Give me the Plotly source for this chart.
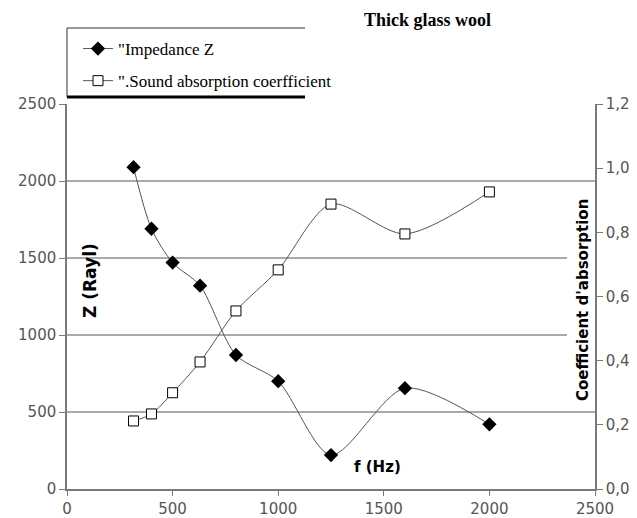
import plotly.graph_objects as go

# Frequencies (Hz) and measured values for thick glass wool
freq_hz = [315, 400, 500, 630, 800, 1000, 1250, 1600, 2000]
impedance_z = [2090, 1690, 1470, 1320, 870, 700, 220, 655, 420]
absorption = [0.212, 0.234, 0.30, 0.396, 0.555, 0.683, 0.888, 0.795, 0.926]

z_ticks = [0, 500, 1000, 1500, 2000, 2500]
alpha_ticks = [0.0, 0.2, 0.4, 0.6, 0.8, 1.0, 1.2]
f_ticks = [0, 500, 1000, 1500, 2000, 2500]
grid_levels = [500, 1000, 1500, 2000]

W, H = 637, 518
L, R, T, B = 67, 42, 104, 29
pw, ph = W - L - R, H - T - B

def px_x(p):
    return (p - L) / pw

def px_y(p):
    return (H - B - p) / ph

tick_font = dict(family="DejaVu Sans", size=15, color="#555555")
axis_col = "#7a7a7a"

fig = go.Figure()

fig.add_trace(go.Scatter(
    x=freq_hz, y=impedance_z, name='"Impedance Z',
    mode="lines+markers", line=dict(color="#555555", width=1, shape="spline", smoothing=0.8),
    marker=dict(symbol="diamond", size=11, color="black"),
    legendgroup="a",
))
fig.add_trace(go.Scatter(
    x=freq_hz, y=absorption, name='".Sound absorption coerfficient', yaxis="y2",
    mode="lines+markers", line=dict(color="#555555", width=1, shape="spline", smoothing=0.8),
    marker=dict(symbol="square", size=10, color="white", line=dict(color="black", width=1)),
    legendgroup="b",
))

shapes = []
for g in grid_levels:
    x1 = 1.0 if g in (500, 2000) else px_x(567)
    shapes.append(dict(type="line", xref="paper", yref="y", x0=0, x1=x1, y0=g, y1=g,
                       line=dict(color="#555555", width=1), layer="below"))

# legend frame
lx0, lx1, ly0, ly1 = px_x(67), px_x(305), px_y(97), px_y(28)
shapes += [
    dict(type="line", xref="paper", yref="paper", x0=lx0, x1=lx1, y0=ly1, y1=ly1,
         line=dict(color="#333333", width=1)),
    dict(type="line", xref="paper", yref="paper", x0=lx0, x1=lx0, y0=ly0, y1=ly1,
         line=dict(color="#333333", width=1)),
    dict(type="line", xref="paper", yref="paper", x0=lx0, x1=lx1, y0=ly0, y1=ly0,
         line=dict(color="black", width=3)),
]

def label(text, cx, cy, size, family="DejaVu Sans", angle=0):
    return dict(text=text, xref="paper", yref="paper", x=px_x(cx), y=px_y(cy),
                xanchor="center", yanchor="middle", showarrow=False, textangle=angle,
                font=dict(family=family, size=size, color="black"))

annotations = [
    label("<b>Thick glass wool</b>", 427, 20, 18, family="Liberation Serif"),
    label("<b>Z (Rayl)</b>", 90, 281, 17, angle=-90),
    label("<b>f (Hz)</b>", 377, 467, 15),
    label("<b>Coefficient d'absorption</b>", 583, 300, 15, angle=-90),
]

fig.update_layout(
    width=W, height=H,
    margin=dict(l=L, r=R, t=T, b=B, pad=0, autoexpand=False),
    paper_bgcolor="white", plot_bgcolor="white",
    separators=",.",
    showlegend=True,
    legend=dict(x=px_x(78), y=px_y(31), xanchor="left", yanchor="top",
                font=dict(family="Liberation Serif", size=17, color="black"),
                bgcolor="rgba(0,0,0,0)", borderwidth=0, tracegroupgap=7,
                traceorder="grouped", itemwidth=30),
    xaxis=dict(range=[0, 2500], tickvals=f_ticks, ticktext=[str(v) for v in f_ticks],
               showgrid=False, zeroline=False, showline=True, linecolor=axis_col, linewidth=1.5,
               ticks="outside", ticklen=5, tickcolor=axis_col, tickfont=tick_font, automargin=False),
    yaxis=dict(range=[0, 2500], tickvals=z_ticks, ticktext=[str(v) for v in z_ticks],
               showgrid=False, zeroline=False, showline=True, linecolor=axis_col, linewidth=1.5,
               ticks="outside", ticklen=6, tickcolor=axis_col, tickfont=tick_font, automargin=False),
    yaxis2=dict(range=[0, 1.2], tickvals=alpha_ticks, tickformat=".1f", overlaying="y", side="right",
                showgrid=False, zeroline=False, showline=True, linecolor=axis_col, linewidth=1.5,
                ticks="outside", ticklen=6, tickcolor=axis_col, tickfont=tick_font, automargin=False),
    shapes=shapes,
    annotations=annotations,
)

fig.write_html("out.html")
